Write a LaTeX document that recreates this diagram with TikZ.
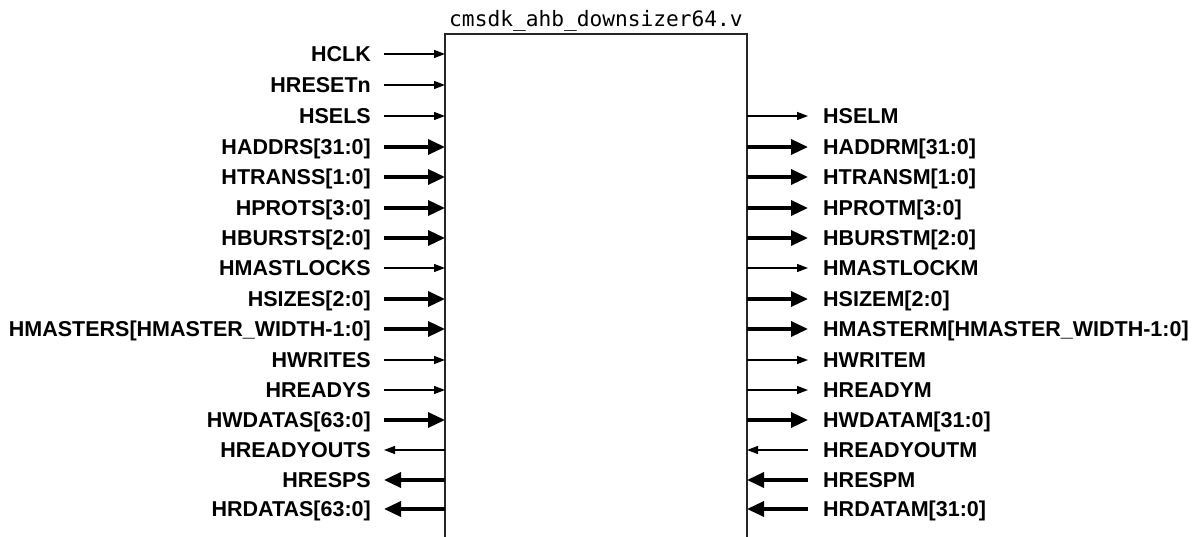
\documentclass[tikz,border=0pt]{standalone}
\usepackage{fontspec}
\setmainfont{Liberation Sans}
\newfontfamily\titlemono{DejaVu Sans Mono}
\usetikzlibrary{arrows.meta}
\tikzset{
  thinsig/.style={line width=1.3pt, -{Triangle[length=11pt,width=8pt]}},
  thicksig/.style={line width=3.4pt, -{Triangle[length=17pt,width=15pt]}},
  lbl/.style={font=\fontsize{21.5}{24}\selectfont\bfseries, inner sep=0pt},
  frame/.style={line width=1.3pt, draw=black!85}
}
\begin{document}
\begin{tikzpicture}[x=1pt,y=-1pt]
\useasboundingbox (0,0) rectangle (1199,537);
% block
\coordinate (bl) at (445,537);
\coordinate (tl) at (445,34);
\coordinate (tr) at (747,34);
\coordinate (br) at (747,537);
\draw[frame] (bl) -- (tl) -- (tr) -- (br);
\node[font=\titlemono\fontsize{21.2}{24}\selectfont, inner sep=0pt, anchor=base] (title) at (596,27) {cmsdk\_ahb\_downsizer64.v};
% left side
\foreach \n/\y [count=\i] in {
  HCLK/54,
  HRESETn/85,
  HSELS/116,
  {HADDRS[31:0]}/147,
  {HTRANSS[1:0]}/177,
  {HPROTS[3:0]}/208,
  {HBURSTS[2:0]}/238,
  HMASTLOCKS/268,
  {HSIZES[2:0]}/299,
  {HMASTERS[HMASTER\_WIDTH-1:0]}/329,
  HWRITES/360,
  HREADYS/390,
  {HWDATAS[63:0]}/420,
  HREADYOUTS/450,
  HRESPS/480,
  {HRDATAS[63:0]}/509}{
  \node[lbl, anchor=base east] (L\i) at (371,\y+7.5) {\n};
  \coordinate (La\i) at (384,\y);
  \coordinate (Lb\i) at (445,\y);
}
\foreach \i/\s in {1/thinsig,2/thinsig,3/thinsig,4/thicksig,5/thicksig,6/thicksig,7/thicksig,8/thinsig,9/thicksig,10/thicksig,11/thinsig,12/thinsig,13/thicksig}{
  \draw[\s] (La\i) -- (Lb\i);
}
\foreach \i/\s in {14/thinsig,15/thicksig,16/thicksig}{
  \draw[\s] (Lb\i) -- (La\i);
}
% right side
\foreach \n/\y [count=\i from 3] in {
  HSELM/116,
  {HADDRM[31:0]}/147,
  {HTRANSM[1:0]}/177,
  {HPROTM[3:0]}/208,
  {HBURSTM[2:0]}/238,
  HMASTLOCKM/268,
  {HSIZEM[2:0]}/299,
  {HMASTERM[HMASTER\_WIDTH-1:0]}/329,
  HWRITEM/360,
  HREADYM/390,
  {HWDATAM[31:0]}/420,
  HREADYOUTM/450,
  HRESPM/480,
  {HRDATAM[31:0]}/509}{
  \node[lbl, anchor=base west] (R\i) at (823,\y+7.5) {\n};
  \coordinate (Ra\i) at (747,\y);
  \coordinate (Rb\i) at (808,\y);
}
\foreach \i/\s in {3/thinsig,4/thicksig,5/thicksig,6/thicksig,7/thicksig,8/thinsig,9/thicksig,10/thicksig,11/thinsig,12/thinsig,13/thicksig}{
  \draw[\s] (Ra\i) -- (Rb\i);
}
\foreach \i/\s in {14/thinsig,15/thicksig,16/thicksig}{
  \draw[\s] (Rb\i) -- (Ra\i);
}
\end{tikzpicture}
\end{document}
